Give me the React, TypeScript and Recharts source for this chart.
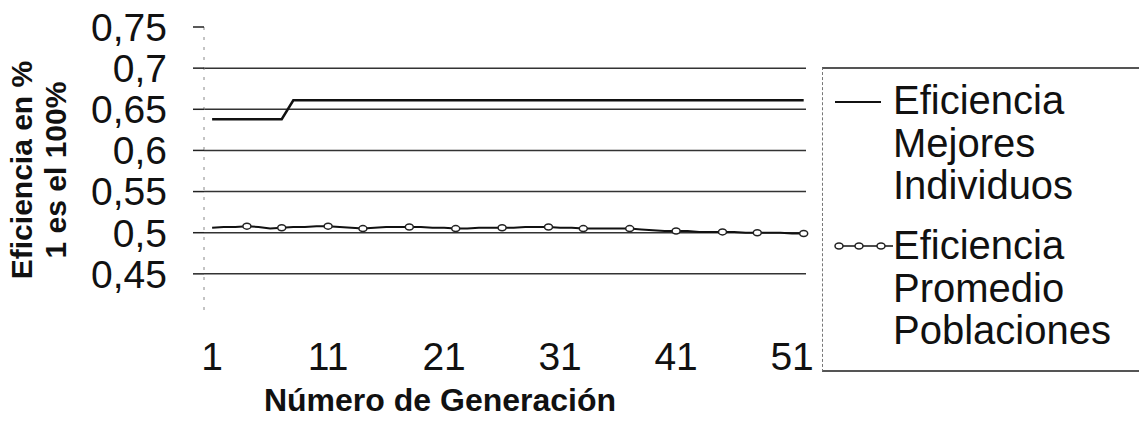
import React from 'react'
import {
  LineChart,
  Line,
  XAxis,
  YAxis,
  ReferenceLine,
} from 'recharts'

const generations = Array.from({ length: 52 }, (_, i) => i + 1)

// best individual per generation
const mejores = [
  0.638, 0.638, 0.638, 0.638, 0.638, 0.638, 0.638, 0.661, 0.661, 0.661,
  0.661, 0.661, 0.661, 0.661, 0.661, 0.661, 0.661, 0.661, 0.661, 0.661,
  0.661, 0.661, 0.661, 0.661, 0.661, 0.661, 0.661, 0.661, 0.661, 0.661,
  0.661, 0.661, 0.661, 0.661, 0.661, 0.661, 0.661, 0.661, 0.661, 0.661,
  0.661, 0.661, 0.661, 0.661, 0.661, 0.661, 0.661, 0.661, 0.661, 0.661,
  0.661, 0.661,
]

// population average per generation
const promedio = [
  0.506, 0.507, 0.507, 0.508, 0.507, 0.505, 0.506, 0.507, 0.507, 0.508,
  0.508, 0.507, 0.506, 0.505, 0.506, 0.507, 0.507, 0.507, 0.507, 0.506,
  0.506, 0.505, 0.505, 0.506, 0.506, 0.506, 0.506, 0.507, 0.507, 0.507,
  0.506, 0.506, 0.505, 0.505, 0.505, 0.505, 0.505, 0.504, 0.503, 0.502,
  0.502, 0.502, 0.501, 0.501, 0.501, 0.501, 0.5, 0.5, 0.5, 0.5,
  0.499, 0.499,
]

// generations where the scanned series shows a marker
const markerGens = [4, 7, 11, 14, 18, 22, 26, 30, 33, 37, 41, 45, 48, 52]

const xTicks = [1, 11, 21, 31, 41, 51]
const yTicks = [0.45, 0.5, 0.55, 0.6, 0.65, 0.7, 0.75]
const gridValues = [0.45, 0.5, 0.55, 0.6, 0.65, 0.7]

const seriesNames = {
  mejores: ['Eficiencia', 'Mejores', 'Individuos'],
  promedio: ['Eficiencia', 'Promedio', 'Poblaciones'],
}

const FONT = '"Liberation Sans", Arial, sans-serif'

const data = generations.map((gen, i) => ({
  gen,
  mejores: mejores[i],
  promedio: promedio[i],
}))

const fmt = (v: number) => String(v).replace('.', ',')

const MarkerDot = (props: any) => {
  const { cx, cy, payload, index } = props
  if (!markerGens.includes(payload.gen)) return <g key={`d-${index}`} />
  return (
    <ellipse
      key={`d-${index}`}
      cx={cx}
      cy={cy}
      rx={4}
      ry={3}
      fill="#fff"
      stroke="#222"
      strokeWidth={1.5}
    />
  )
}

const LegendBox = () => {
  const row = { height: 42.5, lineHeight: '42.5px' }
  return (
    <div
      style={{
        position: 'absolute',
        left: 822,
        top: 67,
        width: 330,
        height: 305,
        borderTop: '2px solid #555',
        borderBottom: '2px solid #555',
        borderLeft: '1.5px dashed #777',
        fontFamily: FONT,
        fontSize: 40,
        color: '#111',
        boxSizing: 'border-box',
      }}
    >
      <svg
        width={60}
        height={10}
        style={{ position: 'absolute', left: 12, top: 28 }}
      >
        <line x1={0} x2={46} y1={5} y2={5} stroke="#111" strokeWidth={2} />
      </svg>
      <div style={{ position: 'absolute', left: 70, top: 10 }}>
        {seriesNames.mejores.map((t) => (
          <div key={t} style={row}>{t}</div>
        ))}
      </div>
      <svg
        width={70}
        height={12}
        style={{ position: 'absolute', left: 10, top: 171 }}
      >
        <line x1={4} x2={60} y1={6} y2={6} stroke="#111" strokeWidth={1.5} />
        {[6, 26, 48].map((cx) => (
          <ellipse key={cx} cx={cx} cy={6} rx={4} ry={3} fill="#fff" stroke="#222" strokeWidth={1.5} />
        ))}
      </svg>
      <div style={{ position: 'absolute', left: 70, top: 155 }}>
        {seriesNames.promedio.map((t) => (
          <div key={t} style={row}>{t}</div>
        ))}
      </div>
    </div>
  )
}

export default function App() {
  return (
    <div
      style={{
        position: 'fixed',
        left: 0,
        top: 0,
        width: 1139,
        height: 428,
        background: '#fff',
        overflow: 'hidden',
      }}
    >
      <LineChart
        width={1139}
        height={428}
        data={data}
        margin={{ top: 27, right: 333, bottom: 53, left: 0 }}
      >
        <XAxis
          dataKey="gen"
          type="number"
          domain={[0.3, 52.2]}
          ticks={xTicks}
          interval={0}
          axisLine={false}
          tickLine={false}
          tickSize={0}
          tickMargin={27}
          height={60}
          tick={{ fontSize: 39, fill: '#111', fontFamily: FONT }}
        />
        <YAxis
          type="number"
          domain={[0.4, 0.75]}
          ticks={yTicks}
          interval={0}
          width={204}
          tickFormatter={fmt}
          tickSize={11}
          tickMargin={26}
          axisLine={{ stroke: '#888', strokeDasharray: '3 7' }}
          tickLine={{ stroke: '#222', strokeWidth: 1.5 }}
          tick={{ fontSize: 39, fill: '#111', fontFamily: FONT }}
        />
        {gridValues.map((v) => (
          <ReferenceLine key={v} y={v} stroke="#333" strokeWidth={1.5} />
        ))}
        <Line
          dataKey="mejores"
          name="Eficiencia Mejores Individuos"
          type="linear"
          stroke="#111"
          strokeWidth={2.5}
          dot={false}
          isAnimationActive={false}
        />
        <Line
          dataKey="promedio"
          name="Eficiencia Promedio Poblaciones"
          type="linear"
          stroke="#111"
          strokeWidth={2}
          dot={MarkerDot}
          activeDot={false}
          isAnimationActive={false}
        />
      </LineChart>
      <LegendBox />
      <div
        style={{
          position: 'absolute',
          left: 39,
          top: 170,
          transform: 'translate(-50%, -50%) rotate(-90deg)',
          fontFamily: FONT,
          fontWeight: 'bold',
          fontSize: 30,
          lineHeight: '34px',
          textAlign: 'center',
          whiteSpace: 'nowrap',
          color: '#111',
        }}
      >
        <div>Eficiencia en %</div>
        <div>1 es el 100%</div>
      </div>
      <div
        style={{
          position: 'absolute',
          left: 440,
          top: 400,
          transform: 'translate(-50%, -50%)',
          fontFamily: FONT,
          fontWeight: 'bold',
          fontSize: 32,
          whiteSpace: 'nowrap',
          color: '#111',
        }}
      >
        Número de Generación
      </div>
    </div>
  )
}
